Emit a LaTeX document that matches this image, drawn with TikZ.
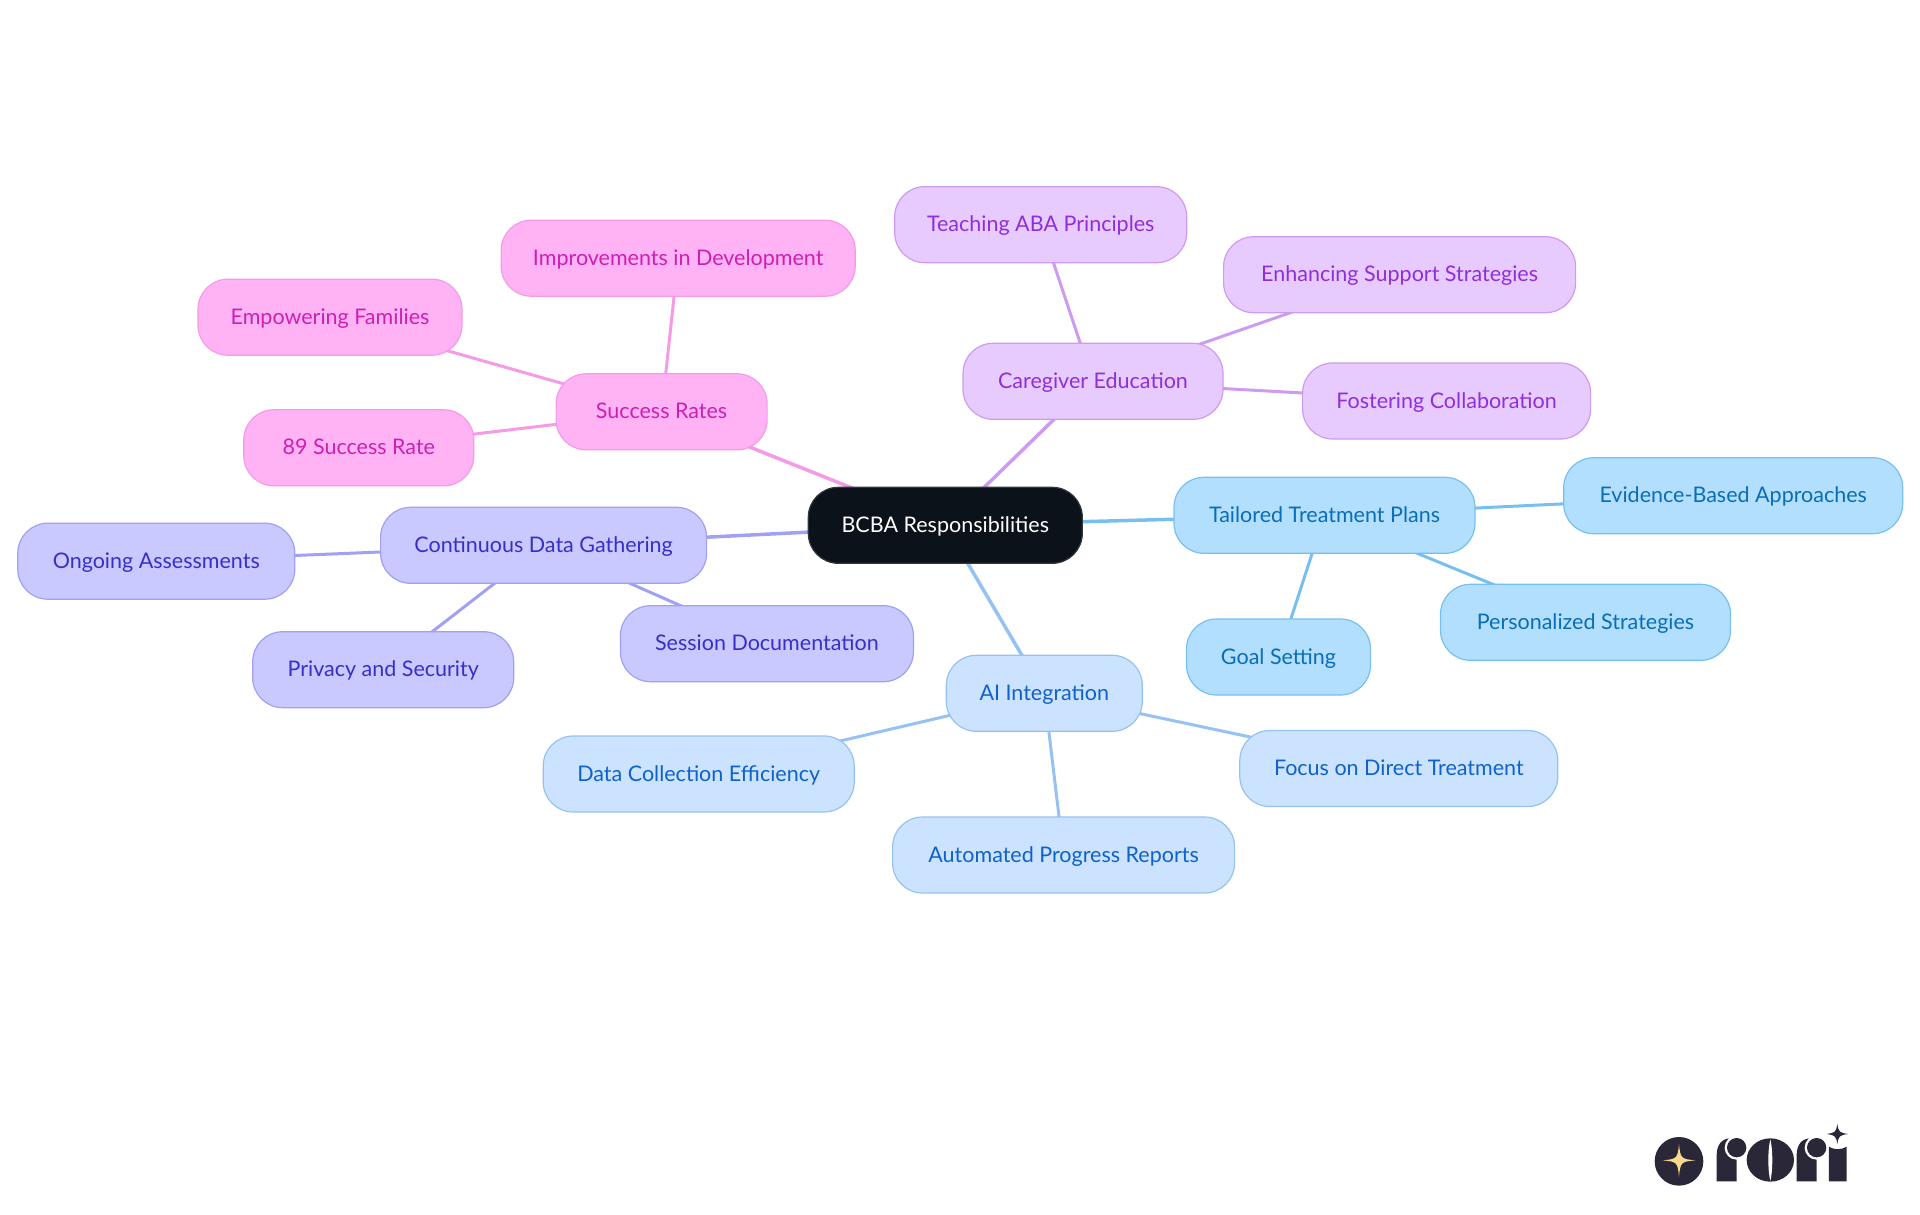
\documentclass[tikz,border=0pt]{standalone}
\usepackage{fontspec}
\setmainfont{Lato}
\usetikzlibrary{backgrounds}
\definecolor{rootfill}{HTML}{0C121A}
\definecolor{pinkfill}{HTML}{FFB3F5}\definecolor{pinkline}{HTML}{F59AE6}\definecolor{pinktext}{HTML}{CE1FB2}
\definecolor{purpfill}{HTML}{E7CBFF}\definecolor{purpline}{HTML}{CE9BF0}\definecolor{purptext}{HTML}{8F2FDB}
\definecolor{indifill}{HTML}{C9C9FF}\definecolor{indiline}{HTML}{A0A0F5}\definecolor{inditext}{HTML}{3730C8}
\definecolor{pblufill}{HTML}{CCE3FF}\definecolor{pbluline}{HTML}{96C2F2}\definecolor{pblutext}{HTML}{0F62CC}
\definecolor{skyfill}{HTML}{B3DFFF}\definecolor{skyline}{HTML}{78BFF0}\definecolor{skytext}{HTML}{0A6DB8}
\definecolor{logodark}{HTML}{2A2838}\definecolor{logostar}{HTML}{FBD98C}
\newcommand{\logostarshape}[5]{\fill[#5] (#1,#2-#4) .. controls (#1+4,#2-6) and (#1+6,#2-4) .. (#1+#3,#2) .. controls (#1+6,#2+4) and (#1+4,#2+6) .. (#1,#2+#4) .. controls (#1-4,#2+6) and (#1-6,#2+4) .. (#1-#3,#2) .. controls (#1-6,#2-4) and (#1-4,#2-6) .. cycle;}
\newcommand{\logoletterr}[1]{%
\fill[logodark] (#1,244) -- (#1,165) .. controls (#1,135) and (#1+15,115) .. (#1+42,115) -- (#1+60,115) -- (#1+60,244) -- cycle;
\fill[white] (#1+60,143) circle (36);
\fill[white] (#1+60.5,150) rectangle (#1+100,200);
\fill[logodark] (#1+60,143) circle (29);}
\tikzset{
 basebox/.style={rectangle,rounded corners=30pt,minimum height=76pt,inner sep=0pt,outer sep=0pt,line width=1.2pt,text height=19pt,text depth=5pt,font=\fontsize{21.5}{25}\selectfont},
 rootbox/.style={basebox,fill=rootfill,draw=rootfill!85!white,text=white},
 pinkbox/.style={basebox,fill=pinkfill,draw=pinkline,text=pinktext},
 purpbox/.style={basebox,fill=purpfill,draw=purpline,text=purptext},
 indibox/.style={basebox,fill=indifill,draw=indiline,text=inditext},
 pblubox/.style={basebox,fill=pblufill,draw=pbluline,text=pblutext},
 skybox/.style={basebox,fill=skyfill,draw=skyline,text=skytext},
 thick link/.style={line width=3.5pt},
 thin link/.style={line width=3pt},
}
\begin{document}
\begin{tikzpicture}[x=1pt,y=-1pt]
\useasboundingbox (0,0) rectangle (1920,1215);
\node[rootbox,minimum width=274pt] (root) at (945.3,525.3) {BCBA Responsibilities};
% pink
\node[pinkbox,minimum width=211pt] (sr) at (661.6,411.8) {Success Rates};
\node[pinkbox,minimum width=354pt] (sr1) at (678.2,258.2) {Improvements in Development};
\node[pinkbox,minimum width=264pt] (sr2) at (330,317.2) {Empowering Families};
\node[pinkbox,minimum width=230pt] (sr3) at (358.8,447.8) {89 Success Rate};
% indigo
\node[indibox,minimum width=326pt] (cd) at (543.6,545.3) {Continuous Data Gathering};
\node[indibox,minimum width=277pt] (cd1) at (156.3,561.2) {Ongoing Assessments};
\node[indibox,minimum width=261pt] (cd2) at (383.2,669.7) {Privacy and Security};
\node[indibox,minimum width=293pt] (cd3) at (766.9,643.7) {Session Documentation};
% purple
\node[purpbox,minimum width=260pt] (ce) at (1093,381.3) {Caregiver Education};
\node[purpbox,minimum width=292pt] (ce1) at (1040.7,224.7) {Teaching ABA Principles};
\node[purpbox,minimum width=352pt] (ce2) at (1399.6,274.7) {Enhancing Support Strategies};
\node[purpbox,minimum width=288pt] (ce3) at (1446.6,401) {Fostering Collaboration};
% sky
\node[skybox,minimum width=301pt] (tt) at (1324.5,515.3) {Tailored Treatment Plans};
\node[skybox,minimum width=339pt] (tt1) at (1733.2,495.7) {Evidence-Based Approaches};
\node[skybox,minimum width=290pt] (tt2) at (1585.5,622.3) {Personalized Strategies};
\node[skybox,minimum width=184pt] (tt3) at (1278.5,657) {Goal Setting};
% pale blue
\node[pblubox,minimum width=196pt] (ai) at (1044.3,693.3) {AI Integration};
\node[pblubox,minimum width=311pt] (ai1) at (698.7,774) {Data Collection Efficiency};
\node[pblubox,minimum width=342pt] (ai2) at (1063.6,855) {Automated Progress Reports};
\node[pblubox,minimum width=318pt] (ai3) at (1398.8,768.5) {Focus on Direct Treatment};
\begin{scope}[on background layer]
\draw[pinkline,thick link] (root.center) -- (sr.center);
\draw[pinkline,thin link] (sr.center) -- (sr1.center);
\draw[pinkline,thin link] (sr.center) -- (sr2.center);
\draw[pinkline,thin link] (sr.center) -- (sr3.center);
\draw[indiline,thick link] (root.center) -- (cd.center);
\draw[indiline,thin link] (cd.center) -- (cd1.center);
\draw[indiline,thin link] (cd.center) -- (cd2.center);
\draw[indiline,thin link] (cd.center) -- (cd3.center);
\draw[purpline,thick link] (root.center) -- (ce.center);
\draw[purpline,thin link] (ce.center) -- (ce1.center);
\draw[purpline,thin link] (ce.center) -- (ce2.center);
\draw[purpline,thin link] (ce.center) -- (ce3.center);
\draw[skyline,thick link] (root.center) -- (tt.center);
\draw[skyline,thin link] (tt.center) -- (tt1.center);
\draw[skyline,thin link] (tt.center) -- (tt2.center);
\draw[skyline,thin link] (tt.center) -- (tt3.center);
\draw[pbluline,thick link] (root.center) -- (ai.center);
\draw[pbluline,thin link] (ai.center) -- (ai1.center);
\draw[pbluline,thin link] (ai.center) -- (ai2.center);
\draw[pbluline,thin link] (ai.center) -- (ai3.center);
\end{scope}
% logo
\begin{scope}[shift={(1620,1100)},x=0.3333pt,y=-0.3333pt]
\fill[logodark] (177,184) circle (73);
\logostarshape{177}{181}{49}{49}{logostar}
\logoletterr{290}
\fill[logodark] (451,180) ellipse (71 and 65);
\fill[white] (451,118) .. controls (443,150) and (443,210) .. (451,243) .. controls (459,210) and (459,150) .. (451,118) -- cycle;
\logoletterr{530}
\fill[logodark] (627,244) -- (627,140) .. controls (640,150) and (665,150) .. (680,140) -- (680,244) -- cycle;
\logostarshape{652}{102}{32}{30}{logodark}
\end{scope}
\end{tikzpicture}
\end{document}
